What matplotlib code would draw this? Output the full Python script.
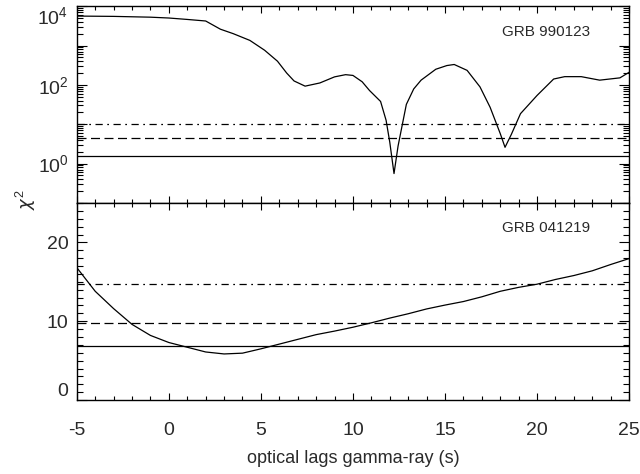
import matplotlib
matplotlib.use('Agg')
import matplotlib.pyplot as plt
from matplotlib.ticker import FixedLocator, MultipleLocator, FuncFormatter
import numpy as np

plt.rcParams['font.family'] = ['Liberation Sans', 'DejaVu Sans']
plt.rcParams['mathtext.fontset'] = 'custom'
plt.rcParams['mathtext.rm'] = 'Liberation Sans'
plt.rcParams['mathtext.it'] = 'DejaVu Sans:italic'
plt.rcParams['axes.unicode_minus'] = False

# GRB 990123 chi^2 vs lag (log scale)
lag_990123 = [-5, -3, -1, 0, 1, 2, 2.8, 3.5, 4.4, 5.2, 5.9, 6.4, 6.8, 7.4, 8.2,
              9.0, 9.6, 10.0, 10.5, 10.9, 11.5, 11.8, 12.0, 12.23, 12.45, 12.65,
              12.9, 13.3, 13.7, 14.5, 15.1, 15.5, 16.2, 16.9, 17.45, 18.0, 18.26,
              18.6, 19.1, 20.0, 20.9, 21.5, 22.4, 23.4, 24.5, 25]
chi2_990123 = [5600, 5500, 5250, 5000, 4600, 4200, 2600, 2000, 1350, 760, 400,
               200, 126, 93, 112, 160, 182, 174, 120, 72, 38, 12.6, 3.5, 0.56,
               2.8, 8.3, 32, 79, 132, 250, 310, 330, 234, 89, 27, 5.8, 2.6, 5.5,
               18.6, 54, 141, 162, 162, 132, 151, 209]
levels_990123 = [1.55, 4.5, 10.2]

# GRB 041219
lag_041219 = list(range(-5, 26))
chi2_041219 = [16.8, 13.8, 11.6, 9.6, 8.2, 7.3, 6.7, 6.1, 5.85, 5.95, 6.5, 7.1,
               7.7, 8.3, 8.75, 9.24, 9.8, 10.4, 10.95, 11.56, 12.05, 12.5, 13.1,
               13.8, 14.3, 14.7, 15.3, 15.8, 16.4, 17.2, 17.95]
levels_041219 = [6.8, 9.75, 14.7]

styles = ['-', (0, (7.2, 3.6)), (0, (5.8, 3.6, 1.4, 3.6))]
txt = '#2a2a2a'

fig = plt.figure(figsize=(6.4, 4.74), dpi=100)
ax1 = fig.add_axes([0.120, 0.5717, 0.863, 0.4153])
ax2 = fig.add_axes([0.120, 0.156, 0.863, 0.4157])

for ax in (ax1, ax2):
    ax.set_xlim(-5, 25)
    ax.xaxis.set_major_locator(MultipleLocator(5))
    ax.xaxis.set_minor_locator(MultipleLocator(1))
    ax.tick_params(which='both', direction='in', top=True, right=True,
                   labelsize=14, labelcolor=txt, width=0.8)
    ax.tick_params(axis='x', which='major', length=5, pad=16)
    ax.tick_params(axis='x', which='minor', length=3)
    ax.tick_params(axis='y', which='major', length=7.5, pad=6)
    ax.tick_params(axis='y', which='minor', length=4)
    for s in ax.spines.values():
        s.set_linewidth(1.0)

# top panel
ax1.plot(lag_990123, chi2_990123, color='black', lw=0.9)
for lv, ls in zip(levels_990123, styles):
    ax1.axhline(lv, color='black', lw=0.9, linestyle=ls)
ax1.set_yscale('log')
ax1.set_ylim(0.1, 1e4)
decades = [0.1, 1, 10, 100, 1000, 10000]
ax1.set_yticks(decades, ['', r'$\mathregular{10^{0}}$', '', r'$\mathregular{10^{2}}$',
                         '', r'$\mathregular{10^{4}}$'])
minors = [m * 10.0 ** e for e in range(-1, 4) for m in range(2, 10)]
ax1.yaxis.set_minor_locator(FixedLocator(minors))
ax1.yaxis.set_minor_formatter(FuncFormatter(lambda v, p: ''))
ax1.get_yticklabels()[-1].set_va('top')
ax1.tick_params(axis='x', labelbottom=False)
ax1.text(0.929, 0.868, 'GRB 990123', transform=ax1.transAxes, ha='right',
         va='center', fontsize=11, color=txt)

# bottom panel
ax2.plot(lag_041219, chi2_041219, color='black', lw=0.9)
for lv, ls in zip(levels_041219, styles):
    ax2.axhline(lv, color='black', lw=0.9, linestyle=ls)
ax2.set_ylim(0, 25)
ax2.set_yticks([0, 10, 20], ['0', '10', '20'])
ax2.yaxis.set_minor_locator(MultipleLocator(1))
ax2.get_yticklabels()[0].set_va('bottom')
ax2.text(0.929, 0.873, 'GRB 041219', transform=ax2.transAxes, ha='right',
         va='center', fontsize=11, color=txt)
ax2.set_xlabel('optical lags gamma-ray (s)', fontsize=13, color=txt, labelpad=8)

fig.text(0.04, 0.578, r'$\chi^2$', rotation=90, ha='center', va='center',
         fontsize=13, color=txt)

fig.savefig('out.png', dpi=100)
plt.close()
